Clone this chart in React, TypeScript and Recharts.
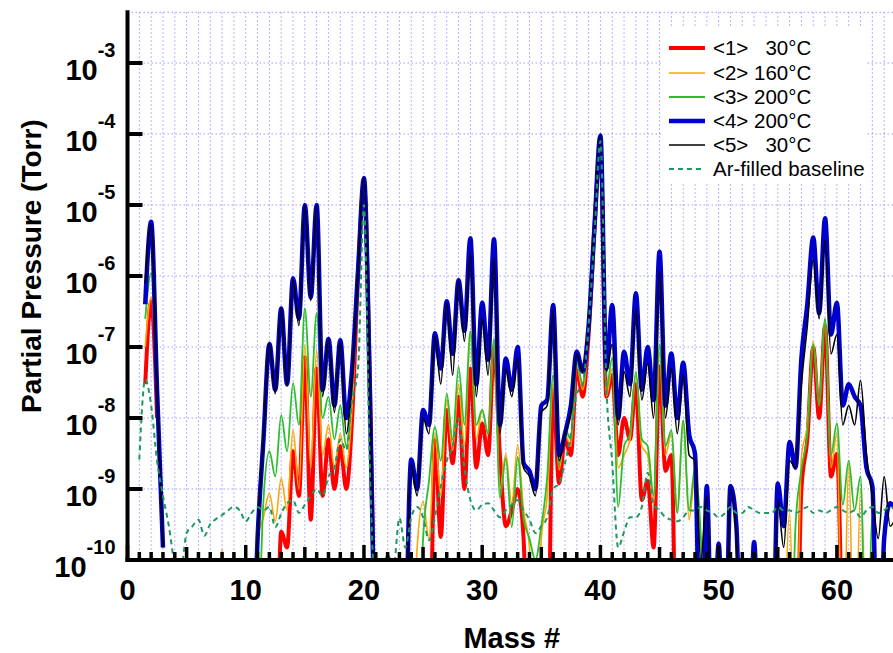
import React from "react";
import { LineChart, Line, XAxis, YAxis, CartesianGrid } from "recharts";

const FONT = "'Liberation Sans', Arial, Helvetica, sans-serif";
const N = null;
const LO = 1e-12; // trace drops below the 1e-10 floor

// mass # sample positions: peak tops on integers, valleys on the halves
const mass = [
  1, 1.5, 2, 2.5, 3, 3.5, 4, 4.5, 5, 5.5,
  6, 6.5, 7, 7.5, 8, 8.5, 9, 9.5, 10, 10.5,
  11, 11.5, 12, 12.5, 13, 13.5, 14, 14.5, 15, 15.5,
  16, 16.5, 17, 17.5, 18, 18.5, 19, 19.5, 20, 20.5,
  21, 21.5, 22, 22.5, 23, 23.5, 24, 24.5, 25, 25.5,
  26, 26.5, 27, 27.5, 28, 28.5, 29, 29.5, 30, 30.5,
  31, 31.5, 32, 32.5, 33, 33.5, 34, 34.5, 35, 35.5,
  36, 36.5, 37, 37.5, 38, 38.5, 39, 39.5, 40, 40.5,
  41, 41.5, 42, 42.5, 43, 43.5, 44, 44.5, 45, 45.5,
  46, 46.5, 47, 47.5, 48, 48.5, 49, 49.5, 50, 50.5,
  51, 51.5, 52, 52.5, 53, 53.5, 54, 54.5, 55, 55.5,
  56, 56.5, 57, 57.5, 58, 58.5, 59, 59.5, 60, 60.5,
  61, 61.5, 62, 62.5, 63, 63.5, 64, 64.5, 65,
];

// <1> 30°C
const run1 = [
  N, 3e-8, 4.4e-7, 1e-8, N, N, N, N, N, N,
  N, N, N, N, N, N, N, N, N, N,
  N, N, LO, LO, 2.5e-10, 1.5e-10, 3.4e-9, 8e-10, 7.2e-8, 3.7e-10,
  5e-8, 8e-10, 5e-9, 1e-9, 4e-9, 1e-9, 1e-8, 1e-6, 2e-5, 3e-8,
  LO, N, N, N, N, N, N, N, LO, LO,
  4.9e-9, 2.1e-10, 1.3e-8, 2.3e-9, 2e-8, 1e-9, 5e-8, 2e-9, 8.4e-9, 3e-9,
  1e-7, 3e-9, 3e-10, 5e-10, 1e-9, 2e-10, LO, LO, LO, LO,
  2.5e-8, 1.2e-9, 5e-9, 3e-9, 5e-8, 2e-8, 1.5e-7, 5e-6, 7e-5, 2e-8,
  4e-8, 3e-9, 1e-8, 5e-9, 3e-8, 7e-10, 1.3e-9, 1.5e-10, 5.3e-8, 1.8e-9,
  3e-9, LO, LO, N, N, N, N, N, N, N,
  N, N, N, N, N, N, N, N, N, N,
  LO, LO, 1e-9, 5e-9, 1e-7, 1e-8, 2e-7, 1.5e-9, 3.1e-9, LO,
  N, N, N, N, N, N, N, N, N,
];

// <2> 160°C
const run2 = [
  N, 1e-7, 5e-7, 1.2e-8, N, N, N, N, N, N,
  N, N, N, LO, 1.4e-10, LO, N, N, N, LO,
  2e-10, 4e-10, 8.7e-10, 3.5e-10, 1.4e-9, 5e-10, 6.8e-9, 1e-9, 1.07e-7, 2e-9,
  9e-8, 3e-9, 8e-9, 2e-9, 6e-9, 2e-9, 1.5e-8, 1e-6, 2.2e-5, 2.5e-8,
  LO, N, N, N, N, N, LO, 1.5e-10, 6.6e-10, 2e-10,
  6e-9, 8e-10, 1.8e-8, 3.5e-9, 3e-8, 4e-9, 1.5e-7, 5e-9, 1.3e-8, 6e-9,
  1.2e-7, 1e-9, 3.1e-9, 6e-10, 4.2e-9, 5e-10, 1.5e-10, LO, 2e-10, 8e-10,
  3e-8, 1.85e-9, 6e-9, 4e-9, 5.5e-8, 2.5e-8, 1.5e-7, 5e-6, 8.5e-5, 2e-8,
  5e-8, 2e-9, 3e-9, 5e-9, 4e-8, 4e-9, 3e-9, 6e-10, 8e-8, 3e-9,
  6e-9, 5e-10, 9e-9, 3.7e-10, 1.5e-9, LO, N, N, N, N,
  N, N, N, N, N, N, N, N, N, LO,
  4.6e-10, LO, 2.8e-9, 8e-9, 1.2e-7, 1.5e-8, 2.5e-7, 2e-9, 6e-9, LO,
  2.3e-9, LO, 1e-9, LO, N, N, N, N, N,
];

// <3> 200°C
const run3 = [
  N, 2.5e-7, 1.1e-6, 1.5e-8, N, N, N, N, N, N,
  N, N, N, N, N, N, N, N, N, N,
  LO, 7e-10, 3.4e-9, 1.5e-9, 1.1e-8, 3.4e-9, 3.1e-8, 8e-9, 3.5e-7, 2e-8,
  3e-7, 1e-8, 2e-8, 5e-9, 1.5e-8, 4e-9, 3e-8, 1.1e-6, 2.3e-5, 2.5e-8,
  LO, N, N, N, N, N, N, LO, 2e-10, 1.3e-9,
  7.5e-9, 2.5e-9, 2.2e-8, 4.9e-9, 5.3e-8, 8e-9, 1.66e-7, 8e-9, 1.3e-8, 6e-9,
  1.3e-7, 7.5e-10, 2.7e-9, 2.9e-10, 2.8e-9, 3.8e-10, 2e-10, 1e-10, 3e-10, 1.5e-9,
  4e-8, 2.2e-9, 7e-9, 5e-9, 6e-8, 3e-8, 1.6e-7, 5e-6, 8.5e-5, 2.5e-8,
  7e-8, 5.6e-10, 4e-9, 6e-9, 4.5e-8, 5e-9, 4e-9, 8e-10, 1.1e-7, 4e-9,
  6.7e-9, 4.6e-10, 9.3e-9, 5e-10, 2e-9, 2e-10, LO, N, N, N,
  N, N, N, N, N, N, N, N, N, LO,
  LO, 3e-10, 1.85e-9, 6e-9, 1.1e-7, 1.5e-8, 2.5e-7, 3e-9, 8.4e-9, 6e-10,
  2.5e-9, 5e-10, 1.5e-9, LO, 4e-10, LO, N, N, N,
];

// <4> 200°C
const run4 = [
  N, 4e-7, 5.8e-6, 2.5e-8, 1.5e-10, N, N, N, N, N,
  N, N, N, N, N, N, N, N, N, LO,
  2e-10, 5e-9, 1.1e-7, 2.5e-8, 3.5e-7, 3e-8, 9.3e-7, 2.5e-7, 1e-5, 5e-7,
  1e-5, 2.5e-8, 1.3e-7, 1.5e-8, 1.25e-7, 1e-8, 5e-8, 1.2e-6, 2.4e-5, 2.5e-8,
  LO, N, N, N, N, LO, 2.6e-9, 1e-9, 1.3e-8, 8e-9,
  1.56e-7, 5e-8, 4.4e-7, 8e-8, 8.7e-7, 1.7e-7, 3.4e-6, 3e-8, 4.2e-7, 6.6e-8,
  3.3e-6, 8e-9, 6.9e-8, 2.5e-8, 1e-7, 2.3e-9, 1.8e-9, 1e-9, 1.5e-8, 1.8e-8,
  3.9e-7, 3e-9, 6e-9, 1.5e-8, 8.6e-8, 4.5e-8, 2e-7, 5e-6, 9.5e-5, 5e-8,
  3.9e-7, 1e-8, 8.6e-8, 3e-8, 5.7e-7, 2.5e-8, 1e-7, 1.8e-8, 2.2e-6, 1.5e-8,
  8.1e-8, 1e-8, 6e-8, 6e-9, 3.1e-9, LO, 1.1e-9, LO, 1.7e-10, LO,
  1.1e-9, 3e-10, LO, LO, 1.8e-10, LO, LO, LO, 1.2e-9, 3e-10,
  4.6e-9, 2e-9, 7e-8, 4e-7, 3.5e-6, 3e-7, 6.5e-6, 1.5e-7, 4.2e-7, 1.5e-8,
  3e-8, 2e-8, 1.5e-8, 2e-9, 1.1e-9, LO, 2e-10, 6.3e-10, 5e-10,
];

// <5> 30°C
const run5 = [
  N, 8e-7, 5.5e-6, 2.5e-8, 1.5e-10, N, N, N, N, N,
  N, N, N, N, N, N, N, N, N, LO,
  2e-10, 5e-9, 1.1e-7, 2.2e-8, 3.5e-7, 2.8e-8, 9e-7, 2e-7, 1e-5, 4.5e-7,
  1e-5, 2e-8, 1.3e-7, 1.2e-8, 1.2e-7, 6e-9, 4e-8, 1.2e-6, 2.4e-5, 2.5e-8,
  LO, N, N, N, N, LO, 2.2e-9, 8e-10, 1e-8, 6e-9,
  1.4e-7, 3e-8, 4.2e-7, 4e-8, 8.5e-7, 1.2e-7, 2.1e-6, 2e-8, 2.6e-7, 4e-8,
  1.8e-6, 6e-9, 5e-8, 2e-8, 7e-8, 2e-9, 1.5e-9, 8e-10, 1.2e-8, 1.5e-8,
  3.3e-7, 2.5e-9, 6e-9, 1.2e-8, 8e-8, 4.5e-8, 2e-7, 5e-6, 9.5e-5, 4.5e-8,
  1.1e-7, 8e-9, 4.5e-8, 2e-8, 3.5e-7, 1.8e-8, 5.9e-8, 1e-8, 1.2e-6, 1e-8,
  5e-8, 6e-9, 4e-8, 3e-9, 2.5e-9, 1e-10, 8e-10, LO, LO, LO,
  1e-9, 2e-10, LO, LO, LO, LO, LO, LO, 7e-10, 1.5e-10,
  2.5e-9, 2e-9, 3e-8, 2e-7, 1.7e-6, 2.5e-7, 3.2e-6, 8e-8, 1.5e-7, 8e-9,
  1.5e-8, 8e-9, 3.4e-8, 3e-9, 8e-10, 2e-10, 1.5e-9, 3e-10, 4e-10,
];

// Ar-filled baseline
const baseline = [
  2.6e-9, 3.5e-8, 1.5e-8, 2.5e-9, 8e-10, 3e-10, 9e-11, 7e-11, 2.4e-10, 3e-10,
  3.7e-10, 2.2e-10, 3.2e-10, 3.8e-10, 4.3e-10, 5e-10, 5.6e-10, 5e-10, 3.5e-10, 4.6e-10,
  5.6e-10, 5e-10, 5.6e-10, 2.9e-10, 4.5e-10, 6.3e-10, 7e-10, 4.6e-10, 6e-10, 8e-10,
  1e-9, 8e-10, 1.5e-9, 2e-9, 5e-9, 3.5e-9, 1.8e-8, 5e-8, 1e-5, 2e-9,
  3e-11, 5e-11, 1.2e-10, 8e-11, 3.9e-10, 1.5e-10, 4e-10, 5.6e-10, 4e-10, 1.9e-10,
  4e-10, 1.1e-9, 2.5e-9, 4e-9, 1e-8, 2e-9, 7e-10, 5e-10, 6e-10, 6.3e-10,
  5e-10, 4e-10, 5e-10, 6e-10, 7e-10, 5e-10, 3.7e-10, 2.4e-10, 3e-10, 4e-10,
  1e-9, 1.2e-9, 2.3e-9, 6e-9, 2.2e-8, 3e-8, 2e-7, 4e-6, 8e-5, 3e-8,
  2.3e-9, 1.5e-10, 2.5e-10, 4e-10, 4e-10, 5.6e-10, 1.7e-9, 6e-10, 5e-10, 4e-10,
  3.7e-10, 3.5e-10, 4e-10, 5e-10, 5e-10, 5.6e-10, 5e-10, 4.6e-10, 4e-10, 4.5e-10,
  5.6e-10, 4.6e-10, 4.6e-10, 5.6e-10, 5e-10, 4.6e-10, 4.6e-10, 4.6e-10, 5.6e-10, 5e-10,
  5e-10, 4.6e-10, 5e-10, 5.6e-10, 4.6e-10, 5e-10, 4.6e-10, 5e-10, 5.6e-10, 5e-10,
  4.6e-10, 5e-10, 4e-10, 5e-10, 5.6e-10, 4.6e-10, 5e-10, 5.6e-10, 5e-10,
];

const massTicks = [
  0, 1, 2, 3, 4, 5, 6, 7, 8, 9, 10, 11, 12, 13, 14, 15, 16, 17, 18, 19, 20, 21,
  22, 23, 24, 25, 26, 27, 28, 29, 30, 31, 32, 33, 34, 35, 36, 37, 38, 39, 40, 41,
  42, 43, 44, 45, 46, 47, 48, 49, 50, 51, 52, 53, 54, 55, 56, 57, 58, 59, 60, 61,
  62, 63, 64, 65,
];
const massLabels = [0, 10, 20, 30, 40, 50, 60];
const decades = [1e-10, 1e-9, 1e-8, 1e-7, 1e-6, 1e-5, 1e-4, 1e-3];

const series = [
  { key: "r1", label: "<1>   30°C", color: "#ff0000", width: 4, dash: undefined },
  { key: "r2", label: "<2> 160°C", color: "#ffa500", width: 1.6, dash: undefined },
  { key: "r3", label: "<3> 200°C", color: "#2cbf2c", width: 1.8, dash: undefined },
  { key: "r4", label: "<4> 200°C", color: "#0000cc", width: 4.5, dash: undefined },
  { key: "r5", label: "<5>   30°C", color: "#000000", width: 1.6, dash: undefined },
  { key: "base", label: "Ar-filled baseline", color: "#1e9960", width: 2, dash: "5 4" },
];

const rows = mass.map((m, i) => ({
  mass: m,
  r1: run1[i],
  r2: run2[i],
  r3: run3[i],
  r4: run4[i],
  r5: run5[i],
  base: baseline[i],
}));

const tickLen = (v: number) => (v % 10 === 0 ? 15 : v % 5 === 0 ? 13 : 8);

function BottomTick(props: any) {
  const { x, y, payload } = props;
  const v = payload.value;
  return (
    <g>
      <line x1={x} x2={x} y1={y} y2={y - tickLen(v)} stroke="#000" strokeWidth={3.5} />
      {massLabels.includes(v) && (
        <text x={x} y={y + 40} textAnchor="middle" fontFamily={FONT} fontWeight="bold" fontSize={29} fill="#000">
          {v}
        </text>
      )}
    </g>
  );
}

function TopTick(props: any) {
  const { x, y, payload } = props;
  return <line x1={x} x2={x} y1={y} y2={y + tickLen(payload.value)} stroke="#000" strokeWidth={3.5} />;
}

function LeftTick(props: any) {
  const { x, y, payload } = props;
  const exp = Math.round(Math.log10(payload.value));
  return (
    <g>
      <line x1={x} x2={x + 15} y1={y} y2={y} stroke="#000" strokeWidth={4} />
      <text x={x - 12} y={y + 17} textAnchor="end" fontFamily={FONT} fontWeight="bold" fontSize={29} fill="#000">
        10
        <tspan dy={-23} fontSize={20}>
          {exp}
        </tspan>
      </text>
    </g>
  );
}

function RightTick(props: any) {
  const { x, y } = props;
  return <line x1={x} x2={x - 15} y1={y} y2={y} stroke="#000" strokeWidth={4} />;
}

function XTitle(props: any) {
  const { viewBox } = props;
  return (
    <text x={viewBox.x + viewBox.width / 2} y={viewBox.y + 88} textAnchor="middle" fontFamily={FONT} fontWeight="bold" fontSize={29} fill="#000">
      Mass #
    </text>
  );
}

function YTitle(props: any) {
  const { viewBox } = props;
  const cy = viewBox.y + viewBox.height / 2 - 20;
  return (
    <text x={41} y={cy} transform={`rotate(-90, 41, ${cy})`} textAnchor="middle" fontFamily={FONT} fontWeight="bold" fontSize={28} fill="#000">
      Partial Pressure (Torr)
    </text>
  );
}

const frame = { stroke: "#000", strokeWidth: 4, strokeLinecap: "square" as const };

export default function App() {
  return (
    <div style={{ position: "fixed", left: 0, top: 0, width: 893, height: 653, overflow: "hidden", background: "#fff" }}>
      <LineChart width={900} height={653} data={rows} margin={{ top: 12.3, right: 4, bottom: 33, left: 0 }}>
        <CartesianGrid stroke="#9a9aff" strokeDasharray="1.5 2.5" strokeWidth={1} />
        <XAxis
          dataKey="mass"
          type="number"
          domain={[0, 65]}
          allowDataOverflow
          ticks={massTicks}
          interval={0}
          height={60}
          tickSize={0}
          tickMargin={0}
          tickLine={false}
          axisLine={frame}
          tick={<BottomTick />}
          label={<XTitle />}
        />
        <XAxis
          xAxisId="top"
          orientation="top"
          type="number"
          domain={[0, 65]}
          allowDataOverflow
          ticks={massTicks}
          interval={0}
          height={0}
          tickSize={0}
          tickMargin={0}
          tickLine={false}
          axisLine={frame}
          tick={<TopTick />}
        />
        <YAxis
          type="number"
          scale="log"
          domain={[1e-10, 5.18e-3]}
          allowDataOverflow
          ticks={decades}
          interval={0}
          width={127.5}
          tickSize={0}
          tickMargin={0}
          tickLine={false}
          axisLine={frame}
          tick={<LeftTick />}
          label={<YTitle />}
        />
        <YAxis
          yAxisId="right"
          orientation="right"
          type="number"
          scale="log"
          domain={[1e-10, 5.18e-3]}
          allowDataOverflow
          ticks={decades}
          interval={0}
          width={0}
          tickSize={0}
          tickMargin={0}
          tickLine={false}
          axisLine={frame}
          tick={<RightTick />}
        />
        {series.map((s) => (
          <Line
            key={s.key}
            type="monotone"
            dataKey={s.key}
            stroke={s.color}
            strokeWidth={s.width}
            strokeDasharray={s.dash}
            dot={false}
            activeDot={false}
            connectNulls={false}
            isAnimationActive={false}
          />
        ))}
      </LineChart>
      <div style={{ position: "absolute", left: 661, top: 27, width: 206, height: 155, background: "#fff" }}>
        {series.map((s, i) => (
          <div
            key={s.key}
            style={{ position: "absolute", left: 0, top: 21.3 + 24.2 * i - 12, height: 24, display: "flex", alignItems: "center" }}
          >
            <svg width={52} height={24}>
              <line x1={8} x2={44} y1={12} y2={12} stroke={s.color} strokeWidth={s.width} strokeDasharray={s.dash} />
            </svg>
            <span style={{ fontFamily: FONT, fontSize: 20.5, lineHeight: "24px", whiteSpace: "pre", color: "#000" }}>{s.label}</span>
          </div>
        ))}
      </div>
    </div>
  );
}
